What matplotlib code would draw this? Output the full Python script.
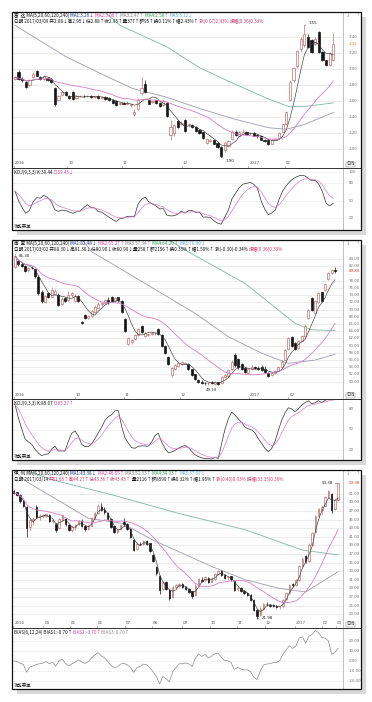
import numpy as np
import pandas as pd
import matplotlib
matplotlib.use('Agg')
import matplotlib.pyplot as plt
from matplotlib.patches import Rectangle
from matplotlib.lines import Line2D
from matplotlib.transforms import blended_transform_factory

# ======================= DATA =======================
# ---- chart 1 (daily, 2016-09 .. 2017-03) ----
o1 = [2.88,2.97,2.88,2.84,2.80,2.90,2.98,2.90,2.88,2.89,2.88,
      2.77,2.62,2.68,2.72,2.66,2.72,2.64,2.66,2.67,2.66,2.67,2.65,2.67,2.64,2.65,2.64,2.62,2.60,2.56,2.58,2.57,2.55,
      2.44,2.50,2.70,2.82,2.61,2.59,2.61,2.58,2.55,2.58,
      2.18,2.20,2.35,2.31,2.37,2.30,2.30,2.28,2.24,2.21,2.08,2.10,2.11,2.08,2.03,
      1.99,2.04,2.13,2.22,2.17,2.19,2.22,2.20,2.20,2.18,2.16,2.12,2.11,2.07,2.12,2.14,2.22,2.31,
      2.62,2.86,3.04,3.25,3.30,3.40,3.37,3.32,3.47,3.22,3.11,3.05,3.12]
c1 = [2.90,2.88,2.86,2.78,2.86,2.94,2.92,2.88,2.92,2.87,2.84,
      2.56,2.66,2.71,2.68,2.64,2.63,2.67,2.66,2.66,2.67,2.65,2.66,2.64,2.65,2.63,2.61,2.58,2.55,2.58,2.57,2.58,2.56,
      2.47,2.62,2.76,2.72,2.57,2.60,2.58,2.54,2.60,2.41,
      2.28,2.30,2.28,2.33,2.23,2.32,2.28,2.23,2.20,2.14,2.13,2.12,2.07,2.03,1.92,
      2.08,2.10,2.22,2.18,2.21,2.22,2.19,2.20,2.17,2.16,2.12,2.10,2.06,2.12,2.13,2.20,2.31,2.46,
      2.84,3.02,3.23,3.38,3.44,3.28,3.22,3.38,3.22,3.12,3.05,3.20,3.32]
h1 = [2.92,2.99,2.90,2.85,2.88,2.96,2.99,2.91,2.93,2.90,2.89,
      2.78,2.68,2.73,2.73,2.68,2.73,2.68,2.68,2.68,2.68,2.68,2.67,2.68,2.66,2.66,2.65,2.63,2.61,2.59,2.59,2.60,2.57,
      2.50,2.64,2.90,2.86,2.62,2.62,2.62,2.59,2.61,2.59,
      2.36,2.32,2.36,2.35,2.38,2.33,2.31,2.29,2.25,2.22,2.14,2.13,2.12,2.09,2.04,
      2.09,2.12,2.24,2.24,2.23,2.25,2.23,2.22,2.21,2.19,2.17,2.13,2.12,2.13,2.14,2.21,2.32,2.48,
      2.86,3.03,3.24,3.40,3.55,3.44,3.38,3.40,3.48,3.23,3.12,3.22,3.45]
l1 = [2.86,2.87,2.84,2.76,2.79,2.89,2.91,2.86,2.87,2.85,2.83,
      2.54,2.60,2.66,2.66,2.63,2.62,2.63,2.65,2.65,2.65,2.64,2.64,2.63,2.63,2.62,2.60,2.57,2.54,2.55,2.56,2.56,2.53,
      2.42,2.49,2.68,2.70,2.56,2.58,2.57,2.53,2.54,2.40,
      2.12,2.17,2.27,2.30,2.22,2.29,2.26,2.22,2.19,2.13,2.06,2.09,2.06,2.02,1.90,
      1.97,2.03,2.12,2.17,2.16,2.18,2.18,2.18,2.16,2.14,2.11,2.09,2.05,2.06,2.11,2.13,2.21,2.30,
      2.60,2.84,3.02,3.22,3.28,3.27,3.20,3.30,3.20,3.10,3.04,3.04,3.10]
ma60_1_x = [0, 5, 14, 23.5, 32.5, 42, 51, 60.5, 70, 75, 80, 88]
ma60_1_y = [3.55, 3.41, 3.16, 2.95, 2.76, 2.65, 2.51, 2.38, 2.27, 2.25, 2.31, 2.46]
ma120_1_x = [24, 29, 42, 51, 60.5, 70, 76, 81, 88]
ma120_1_y = [3.75, 3.55, 3.28, 3.02, 2.82, 2.63, 2.53, 2.54, 2.58]
ticks1 = [2.00, 2.20, 2.40, 2.60, 2.80, 3.00, 3.20, 3.40]
dates1_idx = [0, 14.7, 29.8, 46.4, 64.8, 74.9]
dates1_lbl = ['2016', '10', '11', '12', '2017', '02']

# ---- chart 2 ----
o2 = [81.8,83.5,82.8,82.0,81.0,81.6,81.2,79.2,74.8,72.2,
      74.6,73.6,74.4,74.2,71.6,73.2,72.8,74.0,72.4,73.8,
      66.5,68.5,67.6,68.2,69.4,70.6,71.5,71.8,72.8,73.5,
      72.4,73.4,72.4,67.5,60.5,61.0,61.8,63.0,65.5,62.8,
      63.0,63.2,63.4,64.6,63.1,60.0,56.8,51.8,53.6,54.4,
      55.0,55.0,55.0,53.4,52.0,50.6,50.0,49.6,49.5,49.8,
      49.4,49.9,49.6,51.3,51.6,53.4,57.4,56.3,54.8,53.8,
      52.5,53.4,54.0,53.8,54.0,53.6,52.4,51.8,52.4,53.1,
      54.2,56.1,59.0,62.3,60.8,59.4,61.4,62.6,67.6,73.3,
      69.2,72.0,74.8,75.5,78.4,80.3,81.0]
c2 = [84.8,82.6,82.2,80.8,81.6,81.5,79.3,74.5,72.3,73.9,
      73.5,75.6,75.2,71.4,73.0,72.5,74.2,74.5,73.9,72.3,
      66.3,67.8,68.2,69.5,70.8,71.6,71.8,72.7,72.0,72.4,
      73.2,72.6,69.4,64.2,62.1,61.6,63.0,64.5,63.8,63.6,
      63.3,63.5,63.6,63.2,60.0,58.1,54.9,53.9,54.6,55.2,
      55.4,55.3,53.5,51.8,50.7,49.9,49.6,49.5,49.7,49.5,
      50.0,49.3,51.4,51.8,53.3,55.6,54.6,54.0,53.5,52.6,
      53.4,54.2,53.8,53.4,53.2,52.6,51.7,52.4,53.1,54.0,
      55.6,58.9,62.2,60.0,59.1,61.3,62.7,65.5,70.0,70.0,
      72.4,74.7,72.5,77.0,80.3,81.0,80.8]
h2 = [85.3,84.0,83.2,82.3,81.9,82.0,81.4,79.5,75.4,74.2,
      75.0,76.2,75.8,74.5,73.4,73.5,75.3,74.9,74.3,74.0,
      66.8,68.9,68.5,69.8,71.2,72.0,72.2,73.0,73.5,73.9,
      73.5,73.6,72.7,67.8,62.4,61.9,63.3,64.8,65.8,63.8,
      63.6,63.8,63.8,65.0,63.3,60.3,57.2,54.2,55.0,55.4,
      55.8,55.5,55.2,53.6,52.2,50.8,50.4,50.0,49.9,50.1,
      50.2,50.0,51.6,52.0,53.5,55.9,58.0,56.6,55.2,54.0,
      53.6,54.6,54.4,54.3,54.5,54.4,52.7,52.6,53.3,54.3,
      55.9,59.2,62.5,62.6,61.0,61.6,63.0,65.9,70.3,73.6,
      72.6,74.9,75.0,77.2,80.5,81.4,81.8]
l2 = [81.5,82.2,81.9,80.5,80.6,81.2,78.9,74.0,71.8,71.8,
      73.2,73.4,74.0,71.0,71.3,72.2,72.5,73.5,72.1,72.0,
      66.0,67.5,67.3,68.0,69.2,70.4,71.0,71.5,71.7,72.1,
      72.0,72.2,69.0,63.8,60.2,60.5,61.5,62.8,63.5,62.5,
      62.7,62.9,63.0,63.0,59.7,57.8,54.6,51.3,53.3,54.0,
      54.6,54.8,53.2,51.5,50.5,49.6,49.3,49.2,49.2,49.3,
      49.2,49.1,49.4,51.0,51.4,53.2,54.2,53.6,53.2,52.3,
      52.3,53.2,53.5,53.2,52.9,52.3,51.4,51.6,52.2,53.0,
      54.0,56.0,58.8,59.7,58.8,59.2,61.2,62.4,67.4,69.7,
      69.0,71.8,72.2,75.3,78.2,80.0,80.3]
ma60_2_x = [18, 23, 39, 54, 64, 74, 82, 90, 96]
ma60_2_y = [92.0, 86.1, 77.3, 69.0, 62.5, 57.9, 55.1, 56.0, 57.6]
ma120_2_x = [40, 51, 69, 84, 89, 96]
ma120_2_y = [93.0, 86.6, 77.3, 66.2, 64.4, 64.2]
ticks2 = [50, 52, 54, 56, 58, 60, 62, 64, 66, 68, 70, 72, 74, 76, 78, 82, 84]
dates2_idx = [0, 18.3, 33.0, 49.7, 70.5, 82.3]
dates2_lbl = ['2016', '10', '11', '12', '2017', '02']

# ---- chart 3 ----
o3 = [51.6,51.3,50.7,49.2,48.0,43.2,44.9,47.9,45.6,45.8,
      45.9,46.0,44.6,44.0,43.0,45.0,45.2,43.8,42.6,43.2,
      44.0,44.6,43.5,42.8,43.6,45.4,46.6,48.0,47.3,46.6,
      45.2,43.4,42.2,42.7,44.5,43.9,42.8,40.3,38.2,39.4,
      39.3,40.0,39.5,36.8,34.0,32.0,28.9,30.4,28.6,27.0,
      29.3,29.6,30.0,29.3,28.9,28.4,27.5,29.7,31.0,30.9,
      31.5,30.6,31.2,32.3,33.0,32.2,31.6,31.8,30.8,28.9,
      29.1,28.5,28.0,27.4,26.4,24.0,22.8,24.3,25.4,25.2,
      25.1,24.9,24.6,24.9,26.5,27.9,30.0,29.8,31.0,34.3,
      36.6,35.4,39.2,42.0,45.8,47.3,48.2,50.3,51.0,47.4,49.5]
c3 = [51.2,50.8,49.3,48.1,43.0,45.0,45.2,45.6,45.8,46.0,
      46.2,44.6,44.9,42.6,45.2,46.0,43.9,42.6,43.3,43.8,
      44.7,43.6,42.8,43.6,45.3,46.6,48.2,47.3,46.7,45.2,
      43.3,42.1,42.5,43.7,43.9,42.9,41.0,38.0,39.4,39.3,
      40.0,39.4,37.8,35.4,32.5,28.6,30.5,28.9,26.9,29.3,
      29.8,30.1,29.3,28.9,28.2,27.3,29.6,31.1,30.8,31.6,
      30.6,31.3,32.4,33.0,32.2,31.5,31.7,31.2,28.7,29.2,
      28.5,27.9,27.5,26.3,24.0,22.6,24.3,25.4,25.3,25.0,
      24.9,24.6,24.8,26.4,27.9,29.8,29.7,31.0,34.2,35.9,
      35.3,39.2,41.9,45.8,47.4,48.0,50.2,51.6,47.2,49.5,53.38]
h3 = [51.9,51.5,50.9,49.6,48.2,45.3,45.6,48.4,46.2,46.3,
      46.6,46.2,45.2,44.3,45.4,46.3,45.4,44.0,43.6,44.0,
      45.0,45.1,43.8,43.9,45.6,46.8,48.5,48.8,47.8,46.8,
      45.4,43.6,42.9,44.0,45.3,44.3,43.0,40.5,39.7,39.8,
      40.3,40.2,39.6,37.0,34.3,32.2,30.8,30.8,28.9,29.6,
      30.1,30.3,30.2,29.6,29.2,28.5,30.0,31.5,31.6,31.9,
      31.6,31.6,32.6,33.3,33.2,32.4,31.9,31.9,31.0,29.5,
      29.3,28.7,28.2,27.6,26.6,24.2,24.6,25.6,25.8,25.5,
      25.4,25.1,25.0,26.6,28.1,30.0,30.3,31.2,34.5,36.2,
      36.8,39.5,42.2,46.1,47.7,48.3,50.5,51.9,51.2,49.8,53.38]
l3 = [51.0,50.5,48.9,47.8,41.0,42.6,43.8,45.3,45.0,45.4,
      45.5,44.4,44.1,42.2,42.8,44.7,43.6,42.3,42.2,42.6,
      43.8,43.3,42.4,42.5,43.4,45.1,46.4,47.0,46.4,44.9,
      43.0,41.8,41.8,42.5,43.6,42.5,40.6,37.6,37.9,39.0,
      39.0,39.1,37.5,35.1,32.2,27.6,28.6,28.6,26.4,26.8,
      28.9,29.3,29.0,28.6,27.9,26.7,27.3,29.4,30.4,30.6,
      30.3,30.4,31.0,32.1,31.9,31.2,31.0,30.8,28.3,28.4,
      28.2,27.6,27.2,26.0,23.7,21.98,22.6,24.1,25.0,24.8,
      24.7,24.4,24.3,24.8,26.3,27.7,29.4,29.6,30.8,34.0,
      35.0,35.2,39.0,41.8,45.5,46.4,48.0,50.1,46.5,47.2,49.3]
ma60_3_x = [0, 4, 23, 33.5, 43, 51, 61, 71.5, 82, 90, 100]
ma60_3_y = [56.5, 53.8, 45.3, 44.1, 40.2, 37.5, 34.1, 31.0, 29.0, 28.2, 32.9]
ma120_3_x = [0, 12, 30.5, 51, 71.5, 89, 100]
ma120_3_y = [57.5, 54.2, 50.7, 46.4, 42.6, 37.9, 36.8]
ticks3 = [23, 25, 27, 29, 31, 33, 35, 37, 39, 41, 43, 45, 47, 49, 51]
dates3_idx = [0.2, 9.5, 17.7, 25.9, 34.6, 42.8, 52.1, 60.8, 69.0, 77.7, 87.0, 95.2, 99.6]
dates3_lbl = ['2016', '04', '05', '06', '07', '08', '09', '10', '11', '12', '2017', '02', '03']

# ======================= STYLE / LAYOUT =======================
plt.rcParams['font.family'] = ['Noto Sans CJK SC', 'DejaVu Sans']
plt.rcParams['axes.unicode_minus'] = False

W, H = 372, 702
fig = plt.figure(figsize=(W / 100, H / 100), dpi=100)
fig.patch.set_facecolor('white')
renderer = fig.canvas.get_renderer()

UP = '#c07272'
DN = '#161616'
C_MA5 = '#383838'
C_MA20 = '#d47ec2'
C_MA60 = '#9e9aae'
C_MA120 = '#80b6a6'
GRID = '#e4e4e4'
LBL = '#707070'
RED = '#cc3a6e'
FS = 3.3


def fx(x):
    return x / W


def fy(y):
    return 1 - y / H


def axes_px(x0, y0, x1, y1):
    ax = fig.add_axes([fx(x0), fy(y1), (x1 - x0) / W, (y1 - y0) / H], zorder=2)
    ax.set_axis_off()
    return ax


def frame(y0, y1, ysep):
    x0, x1 = 12, 361
    fig.add_artist(Rectangle((fx(x0 + 5), fy(y1 + 5)), (x1 - x0) / W, (y1 - y0) / H,
                             transform=fig.transFigure, fc='#d9d9d9', ec='none', zorder=0))
    fig.add_artist(Rectangle((fx(x0), fy(y1)), (x1 - x0) / W, (y1 - y0) / H,
                             transform=fig.transFigure, fc='white', ec='none', zorder=0.5))
    fig.add_artist(Line2D([fx(343)] * 2, [fy(y0), fy(y1)], color='#a8a8a8', lw=0.5, zorder=3))
    fig.add_artist(Line2D([fx(x0), fx(x1)], [fy(ysep)] * 2, color='#303030', lw=0.7, zorder=3))
    fig.add_artist(Rectangle((fx(x0), fy(y1)), (x1 - x0) / W, (y1 - y0) / H,
                             transform=fig.transFigure, fc='none', ec='#111111', lw=0.9, zorder=4))


def seg_text(x_px, y_px, segs, size=FS):
    x = x_px
    for s, col in segs:
        t = fig.text(fx(x), fy(y_px), s, color=col, fontsize=size, ha='left', va='center', zorder=5)
        x += t.get_window_extent(renderer).width


def candles(ax, o, h, l, c, w):
    o, h, l, c = map(np.asarray, (o, h, l, c))
    x = np.arange(len(c))
    up = c >= o
    cols = np.where(up, UP, DN)
    ax.vlines(x, l, h, colors=cols, lw=0.5, zorder=3)
    bot = np.minimum(o, c)
    hgt = np.abs(c - o)
    ax.bar(x[up], hgt[up], bottom=bot[up], width=w, facecolor='white', edgecolor=UP, linewidth=0.5, zorder=4)
    ax.bar(x[~up], hgt[~up], bottom=bot[~up], width=w, facecolor=DN, edgecolor=DN, linewidth=0.5, zorder=4)


def kdj(h, l, c, n=9):
    hh = pd.Series(h).rolling(n, min_periods=1).max()
    ll = pd.Series(l).rolling(n, min_periods=1).min()
    rsv = (pd.Series(c) - ll) / (hh - ll) * 100
    k = rsv.ewm(alpha=1 / 3, adjust=False).mean()
    d = k.ewm(alpha=1 / 3, adjust=False).mean()
    return k, d


def chart(y0, ysep, y1, o, h, l, c, ylim, xlim, ticks, fmt, bw, n_fast, n_slow,
          longs, d_idx, d_lbl, cur, cur_col, marks, head1, head2,
          ind, ind_ylim, ind_ticks, ind_fmt, ind_title):
    frame(y0, y1, ysep)
    ax = axes_px(12, y0, 343, ysep)
    ax.set_xlim(*xlim)
    ax.set_ylim(*ylim)
    x = np.arange(len(c))
    for v in ticks:
        ax.axhline(v, color=GRID, lw=0.5, zorder=1)
    for kx, ky, col in longs:
        ax.plot(kx, ky, color=col, lw=0.6, zorder=2)
    candles(ax, o, h, l, c, bw)
    cs = pd.Series(c)
    ax.plot(x, cs.rolling(n_fast, min_periods=1).mean(), color=C_MA5, lw=0.45, zorder=5)
    ax.plot(x, cs.rolling(n_slow, min_periods=1).mean(), color=C_MA20, lw=0.6, zorder=5)
    tr = blended_transform_factory(ax.transAxes, ax.transData)
    for v in ticks:
        ax.text(1 + 6 / 331, v, fmt.format(v), transform=tr, fontsize=2.8, color=LBL,
                ha='left', va='center', family='DejaVu Sans')
    ax.text(1 + 6 / 331, cur, fmt.format(cur), transform=tr,
            fontsize=2.9, color=cur_col, ha='left', va='center', family='DejaVu Sans',
            bbox=dict(boxstyle='square,pad=0.15', fc='white', ec='none'))
    # date row
    trd = blended_transform_factory(ax.transData, ax.transAxes)
    hfrac = 4.5 / (ysep - y0)
    for xi, s in zip(d_idx, d_lbl):
        ax.text(xi, hfrac, s, transform=trd, fontsize=2.9, color='#505050', ha='left', va='center',
                family='DejaVu Sans')
        ax.plot([xi - 0.3, xi - 0.3], [0, 1.6 / (ysep - y0)], transform=trd, color='#777', lw=0.4)
    for s, xi, yv, dx, dy, ha in marks:
        ax.annotate(s, xy=(xi, yv), xytext=(dx, dy), textcoords='offset points', fontsize=2.9,
                    ha=ha, va='center', color='#222', family='DejaVu Sans',
                    arrowprops=dict(arrowstyle='-', lw=0.35, color='#333', shrinkA=0, shrinkB=0))
    # headers
    seg_text(14, y0 + 3.2, head1)
    seg_text(14, y0 + 9.4, head2)
    fig.text(fx(346), fy(y0 + 3), '↓', fontsize=3, color='#666', ha='left', va='center')
    fig.text(fx(356), fy(y0 + 3), '↑', fontsize=3, color='#666', ha='left', va='center')
    fig.text(fx(346.5), fy(ysep - 3.8), '日线', fontsize=3.0, color='#333', ha='left', va='center',
             bbox=dict(boxstyle='square,pad=0.12', fc='white', ec='#888', lw=0.35), zorder=5)
    # indicator
    ai = axes_px(12, ysep, 343, y1)
    ai.set_xlim(*xlim)
    ai.set_ylim(*ind_ylim)
    for v in ind_ticks:
        ai.axhline(v, color='#d6d6d6', lw=0.45, ls=(0, (1, 1.5)), zorder=1)
    for series, col in ind:
        ai.plot(x, series, color=col, lw=0.5, zorder=3)
    tri = blended_transform_factory(ai.transAxes, ai.transData)
    for v in ind_ticks:
        ai.text(1 + 6 / 331, v, ind_fmt.format(v), transform=tri, fontsize=2.8, color=LBL,
                ha='left', va='center', family='DejaVu Sans')
    seg_text(14, ysep + 4.2, ind_title)
    fig.text(fx(13.5), fy(y1 - 3.6), '功能菜单', fontsize=3.2, color='#111', ha='left', va='center', zorder=5)


# ---------------- chart 1 ----------------
k1, d1 = kdj(h1, l1, c1)
chart(12, 168, 230, o1, h1, l1, c1,
      ylim=(1.766, 3.716), xlim=(-0.83, 90.68), ticks=ticks1, fmt='{:.2f}', bw=0.62,
      n_fast=5, n_slow=20,
      longs=[(ma60_1_x, ma60_1_y, C_MA60), (ma120_1_x, ma120_1_y, C_MA120)],
      d_idx=dates1_idx, d_lbl=dates1_lbl, cur=3.32, cur_col='#d9822b',
      marks=[('3.55', 80, 3.55, 3, 1.5, 'left'), ('1.90', 57, 1.90, 3.5, -2.5, 'left')],
      head1=[('富  达 MA(5,20,60,120,240) ', '#111'), ('MA1:3.26↓ ', '#1c2f8a'), ('MA2:3.06↑ ', '#d0479a'),
             ('MA3:2.47↑ ', '#7d7d7d'), ('MA4:2.58↑ ', '#2f9a5a'), ('MA5:3.12↓', '#5aaad8')],
      head2=[('日期 2017/03/09 开2.88↓高2.95↓低2.88↑收2.95↑量377↑额95↑换0.11%↑幅2.43%↑ ', '#111'),
             ('涨(0.07)2.43% ', RED), ('振幅(0.36)0.33%', RED)],
      ind=[(k1, '#303030'), (d1, C_MA20)], ind_ylim=(-1.2, 107), ind_ticks=[100, 80, 50, 20],
      ind_fmt='{:.0f}',
      ind_title=[('KDJ(9,3,3) K:39.44 ', '#111'), ('D:39.45↓', '#d0479a')])

# ---------------- chart 2 ----------------
k2, d2 = kdj(h2, l2, c2)
chart(240, 399, 460, o2, h2, l2, c2,
      ylim=(45.19, 89.36), xlim=(-0.9, 98.4), ticks=ticks2, fmt='{:.2f}', bw=0.62,
      n_fast=5, n_slow=20,
      longs=[(ma60_2_x, ma60_2_y, C_MA60), (ma120_2_x, ma120_2_y, C_MA120)],
      d_idx=dates2_idx, d_lbl=dates2_lbl, cur=80.80, cur_col='#e0392e',
      marks=[('85.30', 0, 85.3, 2.5, -1.0, 'left'), ('49.10', 61, 49.1, -1.0, -3.5, 'right')],
      head1=[('南  宝 MA(5,20,60,120,240) ', '#111'), ('MA1:82.48↓ ', '#1c2f8a'), ('MA2:65.27↑ ', '#d0479a'),
             ('MA3:57.34↑ ', '#7d7d7d'), ('MA4:64.20↑ ', '#2f9a5a'), ('MA5:70.90↓', '#5aaad8')],
      head2=[('日期 2017/03/02 开80.30↓高81.30↓低80.90↓收80.90↓量258↑额2156↑换0.33%↑幅1.50%↑ ', '#111'),
             ('涨(-0.30)-0.34% ', '#111'), ('振幅(0.36)0.33%', RED)],
      ind=[(k2, '#303030'), (d2, C_MA20)], ind_ylim=(5, 95), ind_ticks=[80, 50, 20],
      ind_fmt='{:.0f}',
      ind_title=[('KDJ(9,3,3) K:85.07 ', '#111'), ('D:85.27↑', '#d0479a')])

# ---------------- chart 3 ----------------
cs3 = pd.Series(c3)
ma10_3 = cs3.rolling(10, min_periods=1).mean()
bias3 = (cs3 - ma10_3) / ma10_3 * 100
chart(470, 628, 689, o3, h3, l3, c3,
      ylim=(19.82, 56.50), xlim=(-0.5, 101.5), ticks=ticks3, fmt='{:.2f}', bw=0.45,
      n_fast=3, n_slow=15,
      longs=[(ma60_3_x, ma60_3_y, C_MA60), (ma120_3_x, ma120_3_y, C_MA120)],
      d_idx=dates3_idx, d_lbl=dates3_lbl, cur=53.38, cur_col='#e0392e',
      marks=[('53.38', 100, 53.38, -4.0, 0.0, 'right'), ('21.98', 75, 21.98, 3.5, 0.5, 'left')],
      head1=[('伊  利 MA(5,20,60,120,240) ', '#111'), ('MA1:43.38↓ ', '#1c2f8a'), ('MA2:46.55↑ ', '#d0479a'),
             ('MA3:51.33↑ ', '#7d7d7d'), ('MA4:34.93↑ ', '#2f9a5a'), ('MA5:37.67↓', '#5aaad8')],
      head2=[('日期 2017/03/14 ', '#111'), ('开51.65↑高44.27↑低43.36↑收43.43↑', RED),
             ('量2116↑额8599↑换0.32%↑幅1.96%↑ ', '#111'), ('涨(0.40)0.93% 振幅(33.15)0.36%', RED)],
      ind=[(bias3, '#8a8a8a')], ind_ylim=(-28, 33), ind_ticks=[20, 10, 0, -10, -20],
      ind_fmt='{:.2f}',
      ind_title=[('BIAS(6,12,24) BIAS1:-0.70↑', '#111'), ('BIAS2:-0.70↑', '#d0479a'), ('BIAS3: 0.70↑', '#888')])

fig.savefig('out.png', dpi=100, facecolor='white')
